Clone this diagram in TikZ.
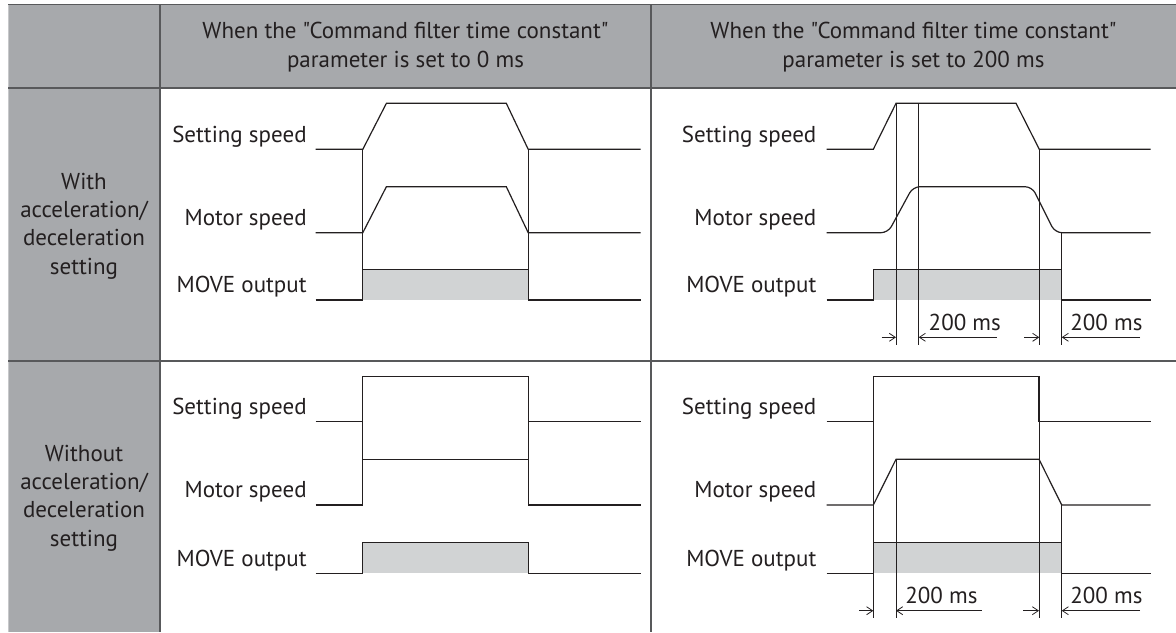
\documentclass[tikz,border=0pt]{standalone}
\usepackage{fontspec}
\setmainfont{PT Sans}[Ligatures=TeXOff]
\usetikzlibrary{arrows.meta}
\definecolor{headGray}{HTML}{A7A9AC}
\definecolor{ruleGray}{HTML}{58595B}
\definecolor{edgeGray}{HTML}{C7C8CA}
\definecolor{inkDark}{HTML}{231F20}
\definecolor{moveFill}{HTML}{D1D3D4}

\begin{document}
\begin{tikzpicture}[
  x=0.5pt, y=-0.5pt,
  every node/.style={font=\fontsize{11.5}{14.2}\selectfont, text=inkDark, inner sep=0pt},
  rule/.style={draw=ruleGray, line width=1.1pt},
  wave/.style={draw=inkDark, line width=0.6pt, line join=miter},
  guide/.style={draw=inkDark, line width=0.4pt},
  siglabel/.style={anchor=base east},
  rowlabel/.style={align=center},
  dimarrow/.style={draw=inkDark, line width=0.4pt, -{Straight Barb[length=3pt, width=4pt]}},
  dimtext/.style={anchor=base west},
]
\useasboundingbox (0,0) rectangle (1176,632);

% Table background
\fill[headGray] (8,4) rectangle (1176,88);
\fill[headGray] (8,88) rectangle (160,632);
\draw[edgeGray, line width=0.5pt] (8,4) -- (8,632);
\draw[ruleGray, line width=0.5pt] (8,4) -- (1176,4);
\draw[rule] (8,88) -- (1176,88);
\draw[rule] (8,361) -- (1176,361);
\foreach \cx in {160,651} {
  \draw[rule] (\cx,4) -- (\cx,632);
}

% Header
\node[rowlabel] (headZero) at (405.5,47) {When the "Command filter time constant"\\parameter is set to 0 ms};
\node[rowlabel] (headTwo) at (913.5,47) {When the "Command filter time constant"\\parameter is set to 200 ms};
\node[rowlabel] (rowWith) at (84,226) {With\\acceleration/\\deceleration\\setting};
\node[rowlabel] (rowWithout) at (84,498) {Without\\acceleration/\\deceleration\\setting};

% Signal names
\foreach \lx/\c in {307/L,816.7/R} {
  \node[siglabel] (set1\c) at (\lx,142) {Setting speed};
  \node[siglabel] (mot1\c) at (\lx,225.4) {Motor speed};
  \node[siglabel] (mov1\c) at (\lx,292.7) {MOVE output};
  \node[siglabel] (set2\c) at (\lx,414.4) {Setting speed};
  \node[siglabel] (mot2\c) at (\lx,497.7) {Motor speed};
  \node[siglabel] (mov2\c) at (\lx,566) {MOVE output};
}

% With acceleration, 0 ms
\fill[moveFill] (362.8,269.3) rectangle (528.2,300);
\draw[guide] (362.8,149.3) -- (362.8,269.3);
\draw[guide] (528.2,149.3) -- (528.2,269.3);
\draw[wave] (315.7,149.3) -- (362.8,149.3) -- (386.4,103.3) -- (506.3,103.3) -- (528.2,149.3) -- (640.6,149.3);
\draw[wave] (315.7,232.7) -- (362.8,232.7) -- (386.4,186.7) -- (506.3,186.7) -- (528.2,232.7) -- (640.6,232.7);
\draw[wave] (315.7,300) -- (362.8,300) -- (362.8,269.3) -- (528.2,269.3) -- (528.2,300) -- (640.6,300);

% With acceleration, 200 ms
\fill[moveFill] (873.3,269.3) rectangle (1061.7,300);
\draw[wave] (826.7,149.3) -- (873.3,149.3) -- (896,103.3) -- (1016,103.3) -- (1039.3,149.3) -- (1150.7,149.3);
\draw[wave, rounded corners=3.5pt] (826.7,232.7) -- (888,232.7) -- (913,186.7) -- (1032,186.7) -- (1055,232.7) -- (1150.7,232.7);
\draw[wave] (826.7,300) -- (873.3,300) -- (873.3,269.3) -- (1061.7,269.3) -- (1061.7,300) -- (1150.7,300);
\draw[guide] (896,103.3) -- (896,345);
\draw[guide] (918.7,103.3) -- (918.7,345);
\draw[guide] (1039.3,149.3) -- (1039.3,345);
\draw[guide] (1061.7,232.7) -- (1061.7,345);
\draw[dimarrow] (881.7,337.3) -- (896,337.3);
\draw[dimarrow] (996.7,337.3) -- (918.7,337.3);
\draw[dimarrow] (1024,337.3) -- (1039.3,337.3);
\draw[dimarrow] (1140,337.3) -- (1061.7,337.3);
\node[dimtext] (dim1a) at (928.3,330.7) {200 ms};
\node[dimtext] (dim1b) at (1070,330.7) {200 ms};

% Without acceleration, 0 ms
\fill[moveFill] (362.8,542.7) rectangle (528.2,573.3);
\draw[guide] (362.8,421.7) -- (362.8,459.3);
\draw[guide] (528.2,421.7) -- (528.2,459.3);
\draw[wave] (315.7,421.7) -- (362.8,421.7) -- (362.8,376.3) -- (528.2,376.3) -- (528.2,421.7) -- (640.6,421.7);
\draw[wave] (315.7,505) -- (362.8,505) -- (362.8,459.3) -- (528.2,459.3) -- (528.2,505) -- (640.6,505);
\draw[wave] (315.7,573.3) -- (362.8,573.3) -- (362.8,542.7) -- (528.2,542.7) -- (528.2,573.3) -- (640.6,573.3);

% Without acceleration, 200 ms
\fill[moveFill] (873.3,542.7) rectangle (1061.7,573.3);
\draw[wave] (826.7,421.7) -- (873.3,421.7) -- (873.3,376.3) -- (1039,376.3) -- (1039,421.7) -- (1150.7,421.7);
\draw[wave] (826.7,505) -- (873.3,505) -- (896,459.3) -- (1039,459.3) -- (1061.7,505) -- (1150.7,505);
\draw[wave] (826.7,573.3) -- (873.3,573.3) -- (873.3,542.7) -- (1061.7,542.7) -- (1061.7,573.3) -- (1150.7,573.3);
\draw[guide] (873.3,421.7) -- (873.3,618);
\draw[guide] (896,459.3) -- (896,618);
\draw[guide] (1039,421.7) -- (1039,618);
\draw[guide] (1061.7,505) -- (1061.7,618);
\draw[dimarrow] (859.3,610.7) -- (873.3,610.7);
\draw[dimarrow] (981.7,610.7) -- (896,610.7);
\draw[dimarrow] (1023.3,610.7) -- (1039,610.7);
\draw[dimarrow] (1140,610.7) -- (1061.7,610.7);
\node[dimtext] (dim2a) at (905,603.5) {200 ms};
\node[dimtext] (dim2b) at (1070,603.5) {200 ms};

\end{tikzpicture}
\end{document}
